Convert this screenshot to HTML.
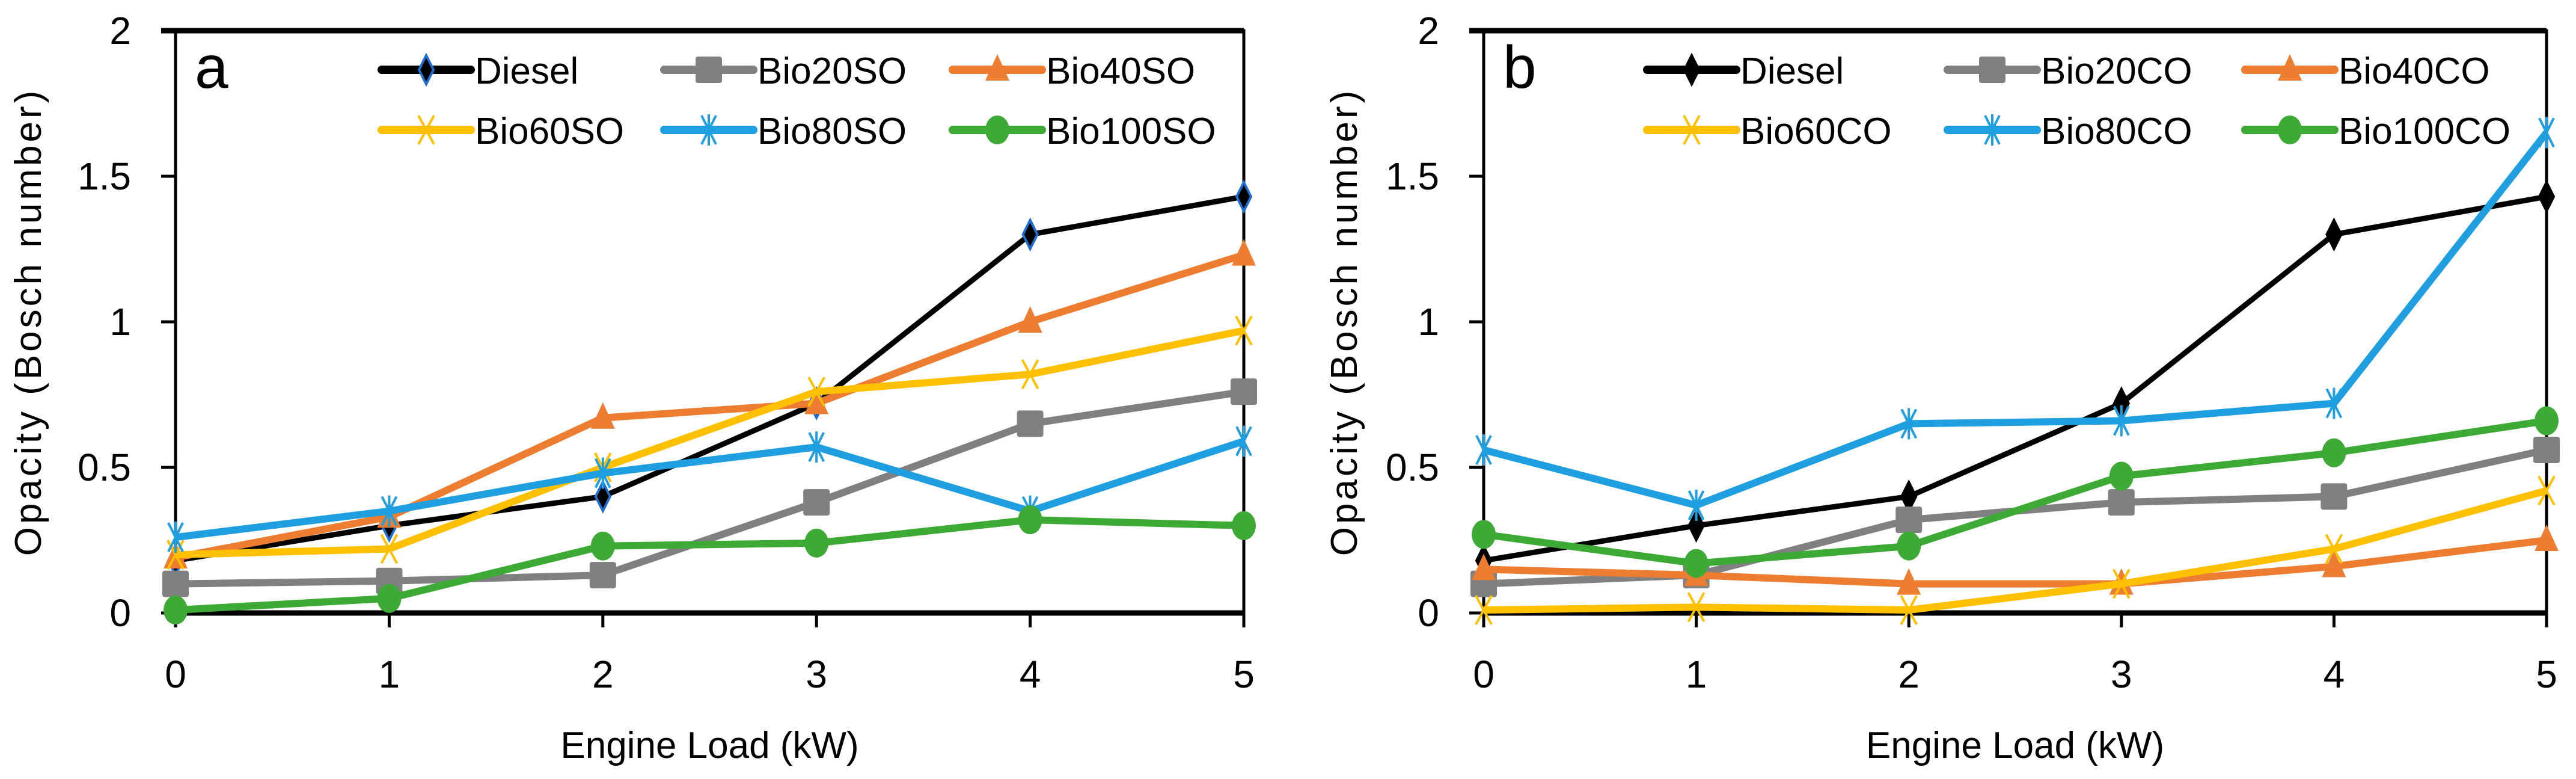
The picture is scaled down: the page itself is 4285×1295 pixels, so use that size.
<!DOCTYPE html>
<html><head><meta charset="utf-8"><style>
html,body{margin:0;padding:0;background:#fff;}
svg{display:block;font-family:"Liberation Sans",sans-serif;}
</style></head><body>
<svg id="chart" width="4285" height="1295" viewBox="0 0 4285 1295" xmlns="http://www.w3.org/2000/svg"></svg>
<script>
const xCategories = [0,1,2,3,4,5];
const yTicks = [0,0.5,1,1.5,2];
const yTickLabels = ["0","0.5","1","1.5","2"];
const namesA = ["Diesel","Bio20SO","Bio40SO","Bio60SO","Bio80SO","Bio100SO"];
const namesB = ["Diesel","Bio20CO","Bio40CO","Bio60CO","Bio80CO","Bio100CO"];
const dieselA = [0.18,0.30,0.40,0.72,1.30,1.43];
const bio20A  = [0.10,0.11,0.13,0.38,0.65,0.76];
const bio40A  = [0.19,0.33,0.67,0.72,1.00,1.23];
const bio60A  = [0.20,0.22,0.50,0.76,0.82,0.97];
const bio80A  = [0.26,0.35,0.48,0.57,0.35,0.59];
const bio100A = [0.01,0.05,0.23,0.24,0.32,0.30];
const dieselB = [0.18,0.30,0.40,0.72,1.30,1.43];
const bio20B  = [0.10,0.13,0.32,0.38,0.40,0.56];
const bio40B  = [0.15,0.13,0.10,0.10,0.16,0.25];
const bio60B  = [0.01,0.02,0.01,0.10,0.22,0.42];
const bio80B  = [0.56,0.37,0.65,0.66,0.72,1.65];
const bio100B = [0.27,0.17,0.23,0.47,0.55,0.66];

const NS="http://www.w3.org/2000/svg";
const svg=document.getElementById('chart');
function mk(tag,attrs,parent){const e=document.createElementNS(NS,tag);for(const k in attrs)e.setAttribute(k,attrs[k]);(parent||svg).appendChild(e);return e;}
const colors=["#000000","#808080","#ED7D31","#FFC000","#1F9FE0","#3DAA35"];
const markers=["diamond","square","triangle","x","star","circle"];

function drawMarker(g,type,cx,cy,color,dieselOutline){
  let m;
  if(type==="diamond"){m=mk('polygon',{points:`${cx},${cy-24} ${cx+12},${cy} ${cx},${cy+24} ${cx-12},${cy}`,fill:'#000',stroke:dieselOutline?'#1F6FD0':'#000','stroke-width':4},g);}
  else if(type==="square"){m=mk('rect',{x:cx-22,y:cy-22,width:44,height:44,rx:4,fill:color},g);}
  else if(type==="triangle"){m=mk('polygon',{points:`${cx},${cy-26} ${cx+20},${cy+18} ${cx-20},${cy+18}`,fill:color},g);}
  else if(type==="x"){m=mk('path',{d:`M${cx-13},${cy-24}L${cx+13},${cy+24}M${cx+13},${cy-24}L${cx-13},${cy+24}`,stroke:color,'stroke-width':4,fill:'none'},g);}
  else if(type==="star"){m=mk('path',{d:`M${cx-12},${cy-24}L${cx+12},${cy+24}M${cx+12},${cy-24}L${cx-12},${cy+24}M${cx},${cy-26}L${cx},${cy+26}`,stroke:color,'stroke-width':4,fill:'none'},g);}
  else {m=mk('ellipse',{cx:cx,cy:cy,rx:20,ry:24,fill:color},g);}
  
  
}

function panel(id,left,right,titleX,letter,names,series,legendX,dieselOutline){
  const top=51,bottom=1019;
  const xs=v=>left+(right-left)*v/5;
  const ys=v=>bottom-(bottom-top)*v/2;
  const g=mk('g',{});
  
  
  // frame
  const fr=mk('rect',{x:left,y:top,width:right-left,height:bottom-top,fill:'none',stroke:'#000','stroke-width':5},g);
  
  
  const ax=mk('line',{x1:left,y1:bottom,x2:right,y2:bottom,stroke:'#000','stroke-width':9},g);
  
  
  const tt=mk('line',{x1:left-24,y1:top,x2:right,y2:top,stroke:'#000','stroke-width':9},g);
  
  
  // y ticks
  yTicks.forEach((v,i)=>{
    const t=mk('line',{x1:left-24,y1:ys(v),x2:left,y2:ys(v),stroke:'#000','stroke-width':5},g);
    
    
    const l=mk('text',{x:left-74,y:ys(v)+22,'text-anchor':'end','font-size':64},g);
    l.textContent=yTickLabels[i];
    
    
  });
  // x ticks
  xCategories.forEach(v=>{
    const t=mk('line',{x1:xs(v),y1:bottom,x2:xs(v),y2:bottom+24,stroke:'#000','stroke-width':5},g);
    
    
    const l=mk('text',{x:xs(v),y:1143,'text-anchor':'middle','font-size':64},g);
    l.textContent=String(v);
    
    
  });
  const xt=mk('text',{x:(left+right)/2,y:1260,'text-anchor':'middle','font-size':62},g);
  xt.textContent='Engine Load (kW)';
  
  
  const yt=mk('text',{x:0,y:0,'text-anchor':'middle','font-size':62,'letter-spacing':5,transform:`translate(${titleX+22},${(top+bottom)/2}) rotate(-90)`},g);
  yt.textContent='Opacity (Bosch number)';
  
  
  const pl=mk('text',{x:left+32,y:146,'font-size':100},g);
  pl.textContent=letter;
  
  
  // series
  series.forEach((vals,si)=>{
    const sg=mk('g',{},g);
    
    
    const pts=vals.map((v,i)=>xs(xCategories[i])+','+ys(v)).join(' ');
    const pl=mk('polyline',{points:pts,fill:'none',stroke:colors[si],'stroke-width':si===0?9:12,'stroke-linejoin':'round'},sg);
    
    
    vals.forEach((v,i)=>drawMarker(sg,markers[si],xs(xCategories[i]),ys(v),colors[si],si===0&&dieselOutline));
  });
  // legend
  const rows=[116,216];
  names.forEach((n,i)=>{
    const lx=legendX[i%3], ly=rows[Math.floor(i/3)];
    const lg=mk('g',{},g);
    
    
    const ln=mk('line',{x1:lx,y1:ly,x2:lx+148,y2:ly,stroke:colors[i],'stroke-width':14,'stroke-linecap':'round'},lg);
    
    
    drawMarker(lg,markers[i],lx+74,ly,colors[i],i===0&&dieselOutline);
    const tx=mk('text',{x:lx+155,y:ly+23,'font-size':62},lg);
    tx.textContent=n;
    
    
  });
}
panel('a',292,2069,46,'a',namesA,[dieselA,bio20A,bio40A,bio60A,bio80A,bio100A],[635,1105,1585],true);
panel('b',2468,4236,2235,'b',namesB,[dieselB,bio20B,bio40B,bio60B,bio80B,bio100B],[2740,3240,3735],false);
</script>
</body></html>
